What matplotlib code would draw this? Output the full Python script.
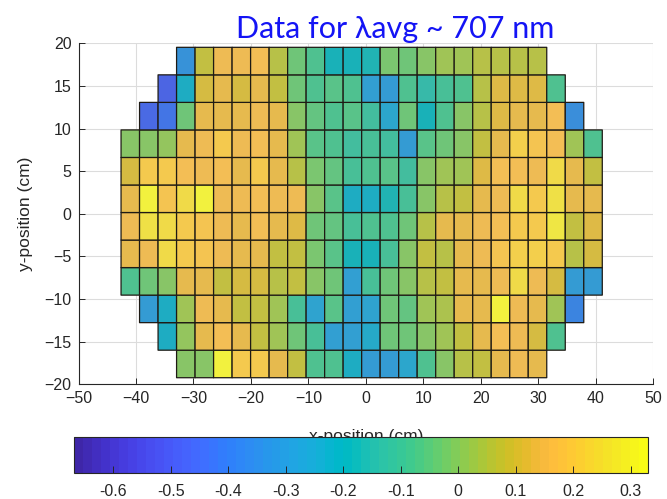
import numpy as np
import matplotlib
matplotlib.use('Agg')
import matplotlib.pyplot as plt
from matplotlib.colors import ListedColormap, Normalize
from matplotlib.cm import ScalarMappable

# cell values (top row first); row i starts at column col_start[i]
col_start = [3, 2, 1, 0, 0, 0, 0, 0, 0, 1, 2, 3]
row_values = [
    [-0.33, 0.07, 0.15, 0.15, 0.17, 0.05, -0.03, -0.09, -0.20, -0.20, -0.18, -0.02, -0.04, 0.00, 0.02, 0.02, 0.05, 0.05, 0.05, 0.06],
    [-0.47, -0.22, 0.10, 0.13, 0.10, 0.14, 0.07, -0.04, -0.08, -0.06, -0.08, -0.28, -0.30, -0.08, -0.15, -0.10, -0.09, 0.06, 0.12, 0.12, 0.12, -0.08],
    [-0.45, -0.42, -0.03, 0.13, 0.13, 0.14, 0.15, 0.13, 0.00, -0.05, -0.08, -0.06, -0.12, -0.25, -0.03, -0.20, -0.08, 0.00, 0.06, 0.12, 0.13, 0.13, 0.17, -0.35],
    [0.00, 0.00, 0.01, 0.13, 0.15, 0.20, 0.15, 0.16, 0.13, 0.03, -0.06, -0.08, -0.12, -0.10, -0.12, -0.30, -0.06, -0.04, 0.00, 0.07, 0.14, 0.22, 0.18, 0.16, 0.02, -0.08],
    [0.10, 0.20, 0.19, 0.16, 0.15, 0.16, 0.14, 0.20, 0.14, 0.05, -0.02, -0.05, -0.10, -0.09, -0.07, -0.12, 0.00, 0.02, 0.03, 0.12, 0.17, 0.16, 0.15, 0.25, 0.14, 0.07],
    [0.14, 0.30, 0.18, 0.25, 0.30, 0.15, 0.15, 0.16, 0.15, 0.15, 0.00, -0.06, -0.22, -0.22, -0.18, -0.10, 0.00, 0.05, 0.07, 0.14, 0.15, 0.25, 0.20, 0.26, 0.14, 0.13],
    [0.15, 0.26, 0.25, 0.19, 0.18, 0.15, 0.14, 0.17, 0.14, 0.12, -0.03, -0.05, -0.10, -0.08, -0.08, -0.03, 0.05, 0.13, 0.14, 0.15, 0.16, 0.19, 0.20, 0.27, 0.08, 0.12],
    [0.13, 0.15, 0.24, 0.20, 0.18, 0.15, 0.14, 0.14, 0.08, 0.07, -0.02, -0.06, -0.20, -0.20, -0.10, 0.00, 0.07, 0.06, 0.13, 0.15, 0.18, 0.21, 0.21, 0.20, 0.06, 0.10],
    [-0.08, -0.03, 0.00, 0.13, 0.14, 0.08, 0.10, 0.10, 0.06, 0.07, -0.01, -0.03, -0.28, -0.10, -0.04, 0.00, 0.06, 0.07, 0.14, 0.14, 0.15, 0.25, 0.15, 0.10, -0.30, -0.30],
    [-0.30, -0.22, 0.02, 0.15, 0.13, 0.08, 0.08, 0.03, -0.10, -0.27, -0.06, -0.28, -0.27, -0.03, -0.05, 0.02, 0.04, 0.13, 0.14, 0.31, 0.15, 0.14, 0.02, -0.38],
    [-0.23, 0.01, 0.14, 0.17, 0.13, 0.08, 0.03, -0.03, -0.10, -0.28, -0.28, -0.24, -0.04, -0.03, 0.00, 0.02, 0.07, 0.14, 0.16, 0.15, 0.10, -0.08],
    [0.00, 0.00, 0.30, 0.20, 0.20, 0.13, 0.08, -0.09, -0.08, -0.22, -0.30, -0.30, -0.25, -0.08, 0.00, 0.06, 0.08, 0.14, 0.15, 0.13],
]

x_ticks = list(range(-50, 51, 10))
y_ticks = list(range(-20, 21, 5))
cbar_ticks = [-0.6, -0.5, -0.4, -0.3, -0.2, -0.1, 0.0, 0.1, 0.2, 0.3]
cbar_labels = ['-0.6', '-0.5', '-0.4', '-0.3', '-0.2', '-0.1', '0', '0.1', '0.2', '0.3']
clim = (-0.668, 0.330)

# cell grid geometry (cm)
n_cols = 26
cell_w = 3.22
cell_h = 3.23
x_left = -42.6
y_bottom = -19.23

# MATLAB parula (64 levels)
PARULA = [
    [0.2422, 0.1504, 0.6603], [0.2504, 0.1650, 0.7076], [0.2578, 0.1818, 0.7511], [0.2647, 0.1978, 0.7952],
    [0.2706, 0.2147, 0.8364], [0.2751, 0.2342, 0.8710], [0.2783, 0.2559, 0.8991], [0.2803, 0.2782, 0.9221],
    [0.2813, 0.3006, 0.9414], [0.2810, 0.3228, 0.9579], [0.2795, 0.3447, 0.9717], [0.2760, 0.3667, 0.9829],
    [0.2699, 0.3892, 0.9906], [0.2602, 0.4123, 0.9952], [0.2440, 0.4358, 0.9988], [0.2206, 0.4603, 0.9973],
    [0.1963, 0.4847, 0.9892], [0.1834, 0.5074, 0.9798], [0.1786, 0.5289, 0.9682], [0.1764, 0.5499, 0.9520],
    [0.1687, 0.5703, 0.9359], [0.1540, 0.5902, 0.9218], [0.1460, 0.6091, 0.9079], [0.1380, 0.6276, 0.8973],
    [0.1248, 0.6459, 0.8883], [0.1113, 0.6635, 0.8763], [0.0952, 0.6798, 0.8598], [0.0689, 0.6948, 0.8394],
    [0.0297, 0.7082, 0.8163], [0.0036, 0.7203, 0.7917], [0.0067, 0.7312, 0.7660], [0.0433, 0.7411, 0.7394],
    [0.0964, 0.7500, 0.7120], [0.1408, 0.7584, 0.6842], [0.1717, 0.7670, 0.6554], [0.1938, 0.7758, 0.6251],
    [0.2161, 0.7843, 0.5923], [0.2470, 0.7918, 0.5567], [0.2906, 0.7973, 0.5188], [0.3406, 0.8008, 0.4789],
    [0.3909, 0.8029, 0.4354], [0.4456, 0.8024, 0.3909], [0.5044, 0.7993, 0.3480], [0.5616, 0.7942, 0.3045],
    [0.6174, 0.7876, 0.2612], [0.6720, 0.7793, 0.2227], [0.7242, 0.7698, 0.1910], [0.7738, 0.7598, 0.1646],
    [0.8203, 0.7498, 0.1535], [0.8634, 0.7406, 0.1596], [0.9035, 0.7330, 0.1774], [0.9393, 0.7288, 0.2100],
    [0.9728, 0.7298, 0.2394], [0.9956, 0.7434, 0.2371], [0.9970, 0.7659, 0.2199], [0.9952, 0.7893, 0.2028],
    [0.9892, 0.8136, 0.1885], [0.9786, 0.8386, 0.1766], [0.9676, 0.8639, 0.1643], [0.9610, 0.8890, 0.1537],
    [0.9597, 0.9135, 0.1423], [0.9628, 0.9373, 0.1265], [0.9691, 0.9606, 0.1064], [0.9769, 0.9839, 0.0805],
]

TEXT_COLOR = '#262626'
GRID_COLOR = '#dcdcdc'


# put the ragged rows into a masked 2D grid (bottom row first for pcolor)
def build_grid():
    grid = np.full((len(row_values), n_cols), np.nan)
    for i, (start, vals) in enumerate(zip(col_start, row_values)):
        grid[i, start:start + len(vals)] = vals
    return np.ma.masked_invalid(grid[::-1])


# the small cells in the original look a bit washed out (jpeg), soften them
def soft_cmap(amount=0.18):
    rgb = np.array(PARULA)
    gray = rgb @ np.array([0.299, 0.587, 0.114])
    soft = rgb * (1 - amount) + gray[:, None] * amount
    return ListedColormap(soft)


def draw_map():
    plt.rcParams['font.family'] = ['Liberation Sans', 'DejaVu Sans']
    fig = plt.figure(figsize=(6.67, 4.99), dpi=100)
    ax = fig.add_axes([0.1177, 0.2299, 0.8618, 0.6833])

    norm = Normalize(vmin=clim[0], vmax=clim[1])
    x_edges = x_left + cell_w * np.arange(n_cols + 1)
    y_edges = y_bottom + cell_h * np.arange(len(row_values) + 1)
    ax.pcolor(x_edges, y_edges, build_grid(), cmap=soft_cmap(), norm=norm,
              edgecolors='#1e1a14', linewidth=0.9, zorder=2)

    ax.set_xlim(-50, 50)
    ax.set_ylim(-20, 20)
    ax.set_xticks(x_ticks)
    ax.set_yticks(y_ticks)
    ax.grid(True, color=GRID_COLOR, linewidth=0.8, zorder=0)
    ax.set_axisbelow(True)
    for side in ['top', 'right']:
        ax.spines[side].set_visible(False)
    for side in ['left', 'bottom']:
        ax.spines[side].set_color(TEXT_COLOR)
        ax.spines[side].set_linewidth(0.8)
    ax.tick_params(direction='in', length=4, width=0.7, colors=TEXT_COLOR,
                   labelsize=11.5, pad=5)

    ax.set_xlabel('x-position (cm)', fontsize=12.5, color=TEXT_COLOR)
    ax.xaxis.set_label_coords(0.5, -0.152)
    ax.xaxis.label.set_va('center')
    ax.set_ylabel('y-position (cm)', fontsize=12.5, color=TEXT_COLOR)
    ax.yaxis.set_label_coords(-0.093, 0.5)
    ax.yaxis.label.set_va('center')

    # colorbar under the plot (drawn on top of the x label, as in the original)
    cax = fig.add_axes([0.1114, 0.0515, 0.8601, 0.0733])
    cbar = fig.colorbar(ScalarMappable(norm=norm, cmap=ListedColormap(PARULA)),
                        cax=cax, orientation='horizontal')
    cbar.set_ticks(cbar_ticks)
    cbar.set_ticklabels(cbar_labels)
    cbar.outline.set_edgecolor(TEXT_COLOR)
    cbar.outline.set_linewidth(0.8)
    cax.tick_params(direction='in', length=5, width=0.7, colors=TEXT_COLOR,
                    labelsize=11.5, pad=8)

    fig.text(0.354, 1 - 38 / 499, 'Data for \u03bbavg ~ 707 nm', color='#1414f5',
             fontsize=22, ha='left', va='baseline', family=['Lato', 'DejaVu Sans'])

    fig.savefig('out.png', dpi=100)


if __name__ == '__main__':
    draw_map()
